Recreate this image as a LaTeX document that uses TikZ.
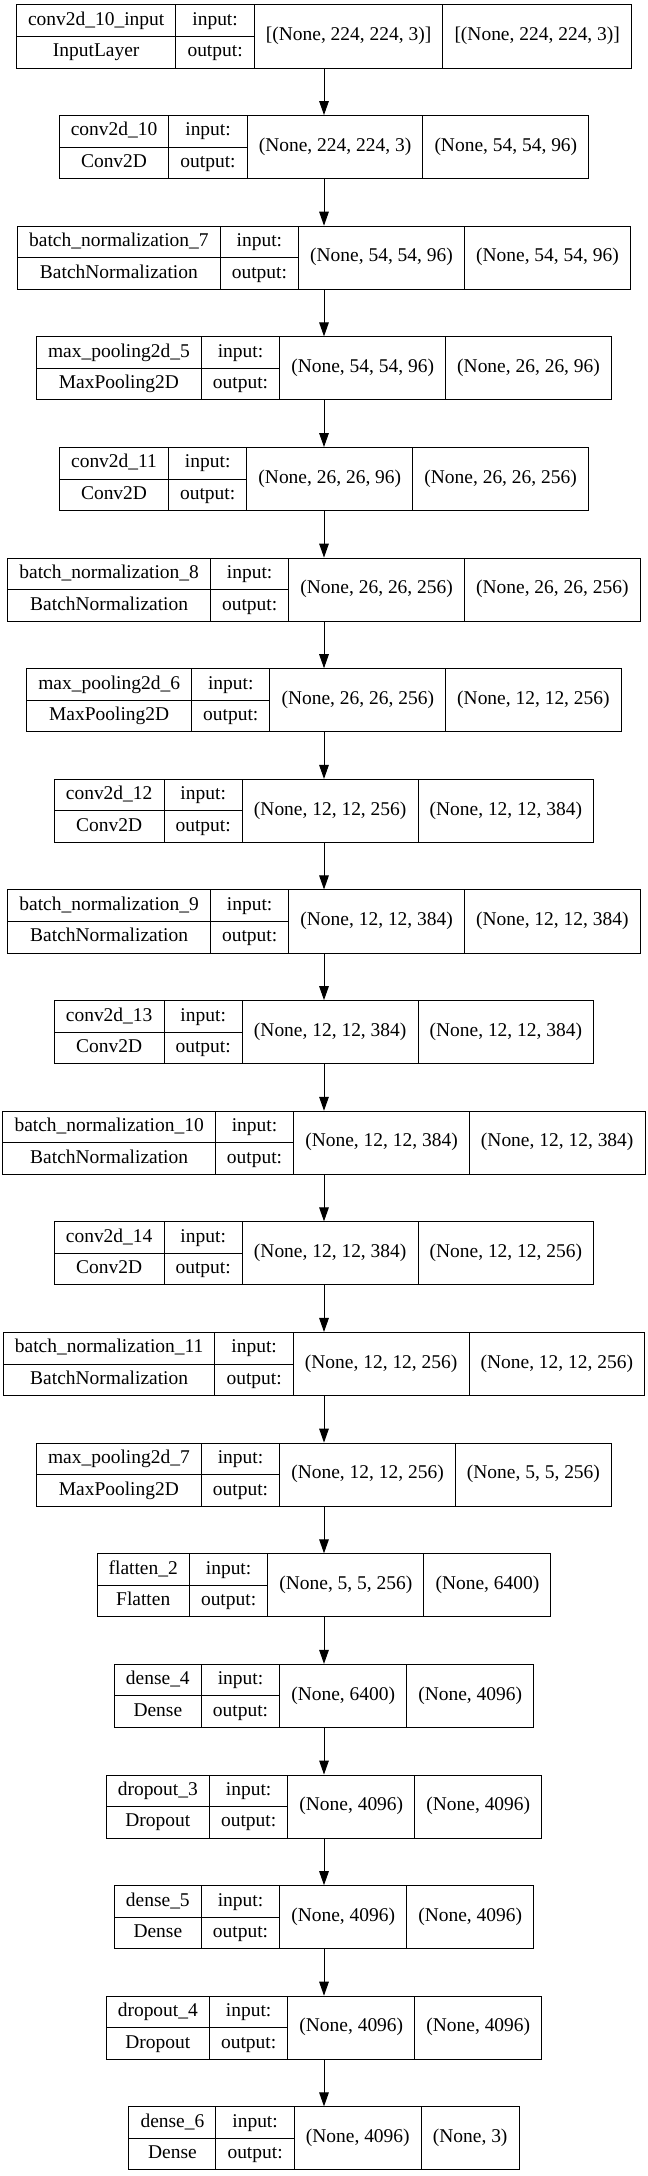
\documentclass[tikz,border=0pt]{standalone}
\usepackage{fontspec}
\setmainfont{Liberation Serif}
\usetikzlibrary{matrix,shapes.multipart,arrows.meta}
\newcommand{\layer}[2]{\matrix (#1) [layer] at (243pt,#2)}
% fixed box so that every part of a cell gets the same height
\newcommand{\fx}[1]{\raisebox{0pt}[10.5pt][3.5pt]{#1}}
\newcommand{\rec}[2]{\fx{#1} \nodepart{two}\fx{#2}}
\newcommand{\io}{\rec{input:}{output:}}
% shape cell: same two parts, text put in the middle
\newcommand{\shp}[1]{\raisebox{-11.45pt}[10.5pt][3.5pt]{#1} \nodepart{two}\fx{}}
\tikzset{
  twopart/.style={rectangle split, rectangle split parts=2},
  layer/.style={matrix of nodes, inner sep=0pt, outer sep=0pt,
    column sep=-0.75pt,
    nodes={draw, line width=0.75pt, anchor=center, inner xsep=8.7pt,
      inner ysep=4.45pt, font=\fontsize{14.6}{17}\selectfont, twopart},
    column 3/.style={nodes={rectangle split draw splits=false}},
    column 4/.style={nodes={rectangle split draw splits=false}}},
  flow/.style={-{Triangle[length=10.5pt,width=7.2pt]}, line width=0.75pt}
}

\begin{document}
\begin{tikzpicture}
\useasboundingbox (0,0) rectangle (486pt,-1632pt);
	\layer{l1}{-27.4pt}{
		\rec{conv2d\_10\_input}{InputLayer} & \io & \shp{[(None, 224, 224, 3)]} & \shp{[(None, 224, 224, 3)]} \\
		};
	\layer{l2}{-110.3pt}{
		\rec{conv2d\_10}{Conv2D} & \io & \shp{(None, 224, 224, 3)} & \shp{(None, 54, 54, 96)} \\
		};
	\layer{l3}{-193.3pt}{
		\rec{batch\_normalization\_7}{BatchNormalization} & \io & \shp{(None, 54, 54, 96)} & \shp{(None, 54, 54, 96)} \\
		};
	\layer{l4}{-276.3pt}{
		\rec{max\_pooling2d\_5}{MaxPooling2D} & \io & \shp{(None, 54, 54, 96)} & \shp{(None, 26, 26, 96)} \\
		};
	\layer{l5}{-359.3pt}{
		\rec{conv2d\_11}{Conv2D} & \io & \shp{(None, 26, 26, 96)} & \shp{(None, 26, 26, 256)} \\
		};
	\layer{l6}{-442.2pt}{
		\rec{batch\_normalization\_8}{BatchNormalization} & \io & \shp{(None, 26, 26, 256)} & \shp{(None, 26, 26, 256)} \\
		};
	\layer{l7}{-525.2pt}{
		\rec{max\_pooling2d\_6}{MaxPooling2D} & \io & \shp{(None, 26, 26, 256)} & \shp{(None, 12, 12, 256)} \\
		};
	\layer{l8}{-608.2pt}{
		\rec{conv2d\_12}{Conv2D} & \io & \shp{(None, 12, 12, 256)} & \shp{(None, 12, 12, 384)} \\
		};
	\layer{l9}{-691.1pt}{
		\rec{batch\_normalization\_9}{BatchNormalization} & \io & \shp{(None, 12, 12, 384)} & \shp{(None, 12, 12, 384)} \\
		};
	\layer{l10}{-774.1pt}{
		\rec{conv2d\_13}{Conv2D} & \io & \shp{(None, 12, 12, 384)} & \shp{(None, 12, 12, 384)} \\
		};
	\layer{l11}{-857.1pt}{
		\rec{batch\_normalization\_10}{BatchNormalization} & \io & \shp{(None, 12, 12, 384)} & \shp{(None, 12, 12, 384)} \\
		};
	\layer{l12}{-940.0pt}{
		\rec{conv2d\_14}{Conv2D} & \io & \shp{(None, 12, 12, 384)} & \shp{(None, 12, 12, 256)} \\
		};
	\layer{l13}{-1023.0pt}{
		\rec{batch\_normalization\_11}{BatchNormalization} & \io & \shp{(None, 12, 12, 256)} & \shp{(None, 12, 12, 256)} \\
		};
	\layer{l14}{-1106.0pt}{
		\rec{max\_pooling2d\_7}{MaxPooling2D} & \io & \shp{(None, 12, 12, 256)} & \shp{(None, 5, 5, 256)} \\
		};
	\layer{l15}{-1189.0pt}{
		\rec{flatten\_2}{Flatten} & \io & \shp{(None, 5, 5, 256)} & \shp{(None, 6400)} \\
		};
	\layer{l16}{-1271.9pt}{
		\rec{dense\_4}{Dense} & \io & \shp{(None, 6400)} & \shp{(None, 4096)} \\
		};
	\layer{l17}{-1354.9pt}{
		\rec{dropout\_3}{Dropout} & \io & \shp{(None, 4096)} & \shp{(None, 4096)} \\
		};
	\layer{l18}{-1437.9pt}{
		\rec{dense\_5}{Dense} & \io & \shp{(None, 4096)} & \shp{(None, 4096)} \\
		};
	\layer{l19}{-1520.8pt}{
		\rec{dropout\_4}{Dropout} & \io & \shp{(None, 4096)} & \shp{(None, 4096)} \\
		};
	\layer{l20}{-1603.8pt}{
		\rec{dense\_6}{Dense} & \io & \shp{(None, 4096)} & \shp{(None, 3)} \\
		};
	\path[flow]
	(l1) edge (l2)
	(l2) edge (l3)
	(l3) edge (l4)
	(l4) edge (l5)
	(l5) edge (l6)
	(l6) edge (l7)
	(l7) edge (l8)
	(l8) edge (l9)
	(l9) edge (l10)
	(l10) edge (l11)
	(l11) edge (l12)
	(l12) edge (l13)
	(l13) edge (l14)
	(l14) edge (l15)
	(l15) edge (l16)
	(l16) edge (l17)
	(l17) edge (l18)
	(l18) edge (l19)
	(l19) edge (l20);
\end{tikzpicture}
\end{document}
